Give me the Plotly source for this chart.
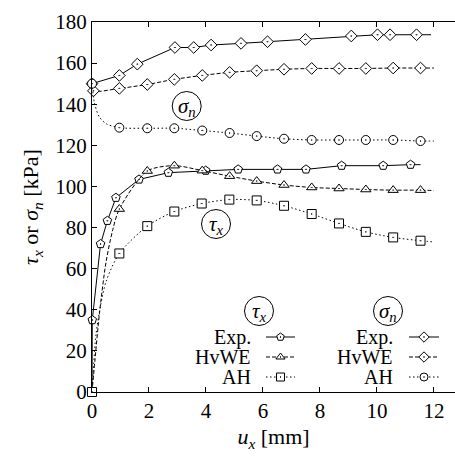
import plotly.graph_objects as go

# ---------------- data ----------------
# sigma_n, experiment
sn_exp_x = [0.0, 0.96, 1.59, 2.91, 3.57, 4.18, 5.23, 6.16, 7.49, 9.10, 10.02, 10.46, 11.39]
sn_exp_y = [150.0, 154.0, 159.5, 167.6, 167.6, 168.8, 169.6, 170.4, 171.5, 173.2, 173.8, 173.8, 173.8]
sn_exp_end_x = [11.9]
sn_exp_end_y = [173.8]

# sigma_n, HvWE model
sn_hv_x = [0.05, 0.96, 1.94, 2.89, 3.87, 4.83, 5.78, 6.74, 7.71, 8.67, 9.61, 10.57, 11.53]
sn_hv_y = [146.5, 147.7, 149.6, 152.1, 154.0, 155.5, 156.3, 157.0, 157.4, 157.4, 157.4, 157.6, 157.6]
sn_hv_curve_x = [0.0, 12.0]
sn_hv_curve_y = [150.0, 157.6]

# sigma_n, AH model
sn_ah_x = [0.0, 0.96, 1.94, 2.89, 3.87, 4.83, 5.78, 6.74, 7.71, 8.67, 9.61, 10.57, 11.53]
sn_ah_y = [150.0, 128.6, 128.3, 128.3, 127.2, 126.0, 124.5, 123.2, 122.6, 122.6, 122.6, 122.6, 122.1]
sn_ah_curve_x = [0.08, 0.25, 0.5, 12.0]
sn_ah_curve_y = [141.0, 134.0, 130.5, 122.1]

# tau_x, experiment
tx_exp_x = [0.0, 0.01, 0.30, 0.54, 0.84, 1.65, 2.68, 3.99, 5.13, 6.51, 7.51, 8.76, 10.22, 11.18]
tx_exp_y = [0.0, 35.0, 72.0, 83.3, 94.5, 103.4, 106.7, 107.7, 108.3, 108.3, 108.3, 110.1, 110.1, 110.6]
tx_exp_end_x = [11.53]
tx_exp_end_y = [110.6]

# tau_x, HvWE model
tx_hv_x = [0.96, 1.94, 2.89, 3.87, 4.83, 5.78, 6.74, 7.71, 8.67, 9.61, 10.57, 11.53]
tx_hv_y = [89.0, 107.5, 110.1, 107.7, 105.0, 102.6, 100.7, 99.5, 99.0, 98.5, 98.2, 98.2]
tx_hv_curve_x = [0.0, 0.1, 0.26, 0.49, 0.73, 12.0]
tx_hv_curve_y = [0.0, 15.0, 38.0, 63.0, 79.0, 98.0]

# tau_x, AH model
tx_ah_x = [0.0, 0.96, 1.94, 2.89, 3.85, 4.82, 5.78, 6.74, 7.71, 8.67, 9.61, 10.57, 11.53]
tx_ah_y = [0.0, 67.4, 80.7, 87.8, 91.7, 93.6, 93.2, 90.6, 86.6, 82.0, 77.9, 75.2, 73.6]
tx_ah_curve_x = [0.14, 0.3, 0.5, 12.0]
tx_ah_curve_y = [28.0, 42.0, 54.0, 73.0]

x_ticks = [0, 2, 4, 6, 8, 10, 12]
y_ticks = [0, 20, 40, 60, 80, 100, 120, 140, 160, 180]
legend_names = ["Exp.", "HvWE", "AH"]

# ---------------- figure ----------------
FONT = "Liberation Serif, DejaVu Serif, serif"
BLACK = "black"

fig = go.Figure()


def merged(xa, ya, xb, yb):
    pts = sorted(zip(list(xa) + list(xb), list(ya) + list(yb)))
    return [p[0] for p in pts], [p[1] for p in pts]


def add_series(xm, ym, xc, yc, dash, symbol, spline):
    lx, ly = merged(xm, ym, xc, yc)
    fig.add_trace(go.Scatter(
        x=lx, y=ly, mode="lines",
        line=dict(color=BLACK, width=1, dash=dash,
                  shape="spline" if spline else "linear", smoothing=0.8),
        hoverinfo="skip", showlegend=False, cliponaxis=False))
    fig.add_trace(go.Scatter(
        x=xm, y=ym, mode="markers",
        marker=dict(symbol=symbol, size=9, color="white",
                    line=dict(color=BLACK, width=1)),
        showlegend=False, cliponaxis=False))


SOLID = "solid"
DASH = "4px,2px"
DOT = "1.5px,2.5px"

add_series(sn_exp_x, sn_exp_y, sn_exp_end_x, sn_exp_end_y, SOLID, "diamond-dot", False)
add_series(sn_hv_x, sn_hv_y, sn_hv_curve_x, sn_hv_curve_y, DASH, "diamond-dot", True)
add_series(sn_ah_x, sn_ah_y, sn_ah_curve_x, sn_ah_curve_y, DOT, "circle-dot", True)
add_series(tx_exp_x, tx_exp_y, tx_exp_end_x, tx_exp_end_y, SOLID, "pentagon-dot", False)
add_series(tx_hv_x, tx_hv_y, tx_hv_curve_x, tx_hv_curve_y, DASH, "triangle-up-dot", True)
add_series(tx_ah_x, tx_ah_y, tx_ah_curve_x, tx_ah_curve_y, DOT, "square-dot", True)

# ---------------- custom legend on an overlay pixel axis ----------------
rows = [337, 357, 377]
styles_tau = [(SOLID, "pentagon-dot"), (DASH, "triangle-up-dot"), (DOT, "square-dot")]
styles_sig = [(SOLID, "diamond-dot"), (DASH, "diamond-dot"), (DOT, "circle-dot")]
columns = [(253, 266, 295, styles_tau), (395, 409, 439, styles_sig)]

annotations = []
shapes = []
for text_right, g0, g1, styles in columns:
    for name, yy, (dash, sym) in zip(legend_names, rows, styles):
        fig.add_trace(go.Scatter(
            x=[g0, g1], y=[yy, yy], mode="lines", xaxis="x2", yaxis="y2",
            line=dict(color=BLACK, width=1, dash=dash),
            hoverinfo="skip", showlegend=False, cliponaxis=False))
        fig.add_trace(go.Scatter(
            x=[(g0 + g1) / 2], y=[yy], mode="markers", xaxis="x2", yaxis="y2",
            marker=dict(symbol=sym, size=8, color="white",
                        line=dict(color=BLACK, width=1)),
            hoverinfo="skip", showlegend=False, cliponaxis=False))
        annotations.append(dict(
            x=text_right, y=yy, xref="x2", yref="y2", text=name,
            showarrow=False, xanchor="right", yanchor="middle",
            font=dict(family=FONT, size=20, color=BLACK)))

TAU = "<i>τ</i><sub><i>x</i></sub>"
SIG = "<i>σ</i><sub><i>n</i></sub>"
circled = [(259, 311, TAU), (388, 311, SIG), (186.7, 106, SIG), (216, 224, TAU)]
R = 14.5
for cx, cy, txt in circled:
    shapes.append(dict(type="circle", xref="x2", yref="y2",
                       x0=cx - R, x1=cx + R, y0=cy - R, y1=cy + R,
                       line=dict(color=BLACK, width=1)))
    annotations.append(dict(x=cx, y=cy + 1, xref="x2", yref="y2", text=txt,
                            showarrow=False, xanchor="center", yanchor="middle",
                            font=dict(family=FONT, size=21, color=BLACK)))

axis_common = dict(
    showline=True, linecolor=BLACK, linewidth=1.2,
    ticks="inside", ticklen=5, tickcolor=BLACK, tickwidth=1,
    showgrid=False, zeroline=False,
    tickfont=dict(family=FONT, size=21, color=BLACK),
)

fig.update_layout(
    width=455, height=456,
    margin=dict(l=92, r=0, t=22, b=64),
    paper_bgcolor="white", plot_bgcolor="white",
    showlegend=False,
    font=dict(family=FONT, size=21, color=BLACK),
    xaxis=dict(range=[0, 12.74], tickvals=x_ticks, mirror="ticks",
               title=dict(text="<i>u</i><sub><i>x</i></sub> [mm]",
                          font=dict(family=FONT, size=22), standoff=6),
               **axis_common),
    yaxis=dict(range=[0, 180], tickvals=y_ticks,
               title=dict(text="<i>τ</i><sub><i>x</i></sub> or <i>σ</i><sub><i>n</i></sub> [kPa]",
                          font=dict(family=FONT, size=22), standoff=10),
               **axis_common),
    xaxis2=dict(overlaying="x", range=[92, 455], visible=False, fixedrange=True),
    yaxis2=dict(overlaying="y", range=[392, 22], visible=False, fixedrange=True),
    annotations=annotations,
    shapes=shapes,
)

fig.write_html("out.html")
